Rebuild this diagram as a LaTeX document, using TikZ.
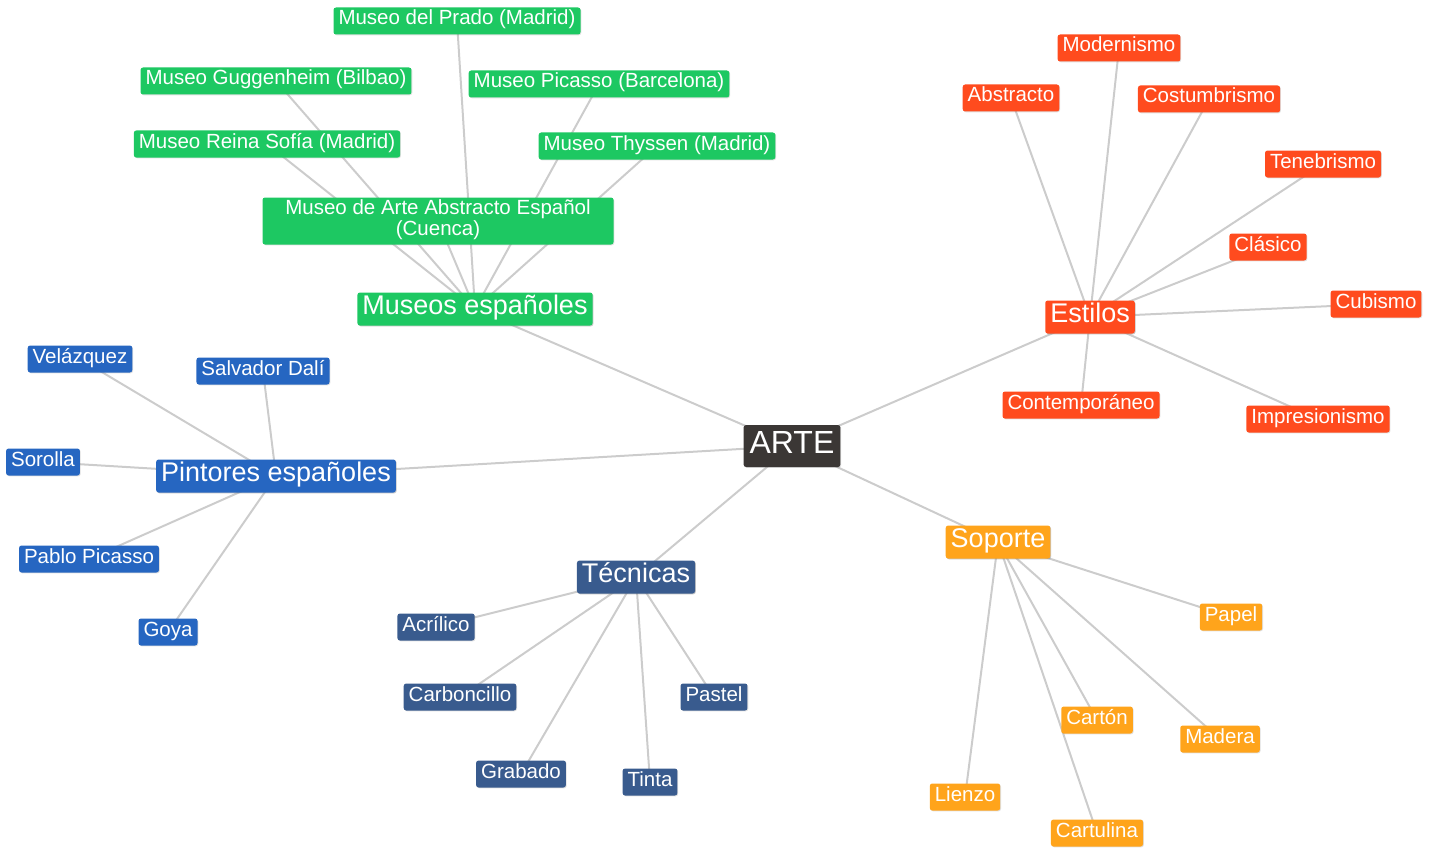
\documentclass[tikz,border=0pt]{standalone}
\usepackage{fontspec}
\setmainfont{Liberation Sans}
\usetikzlibrary{backgrounds,shadows}

\definecolor{artegris}{RGB}{59,55,53}
\definecolor{museoverde}{RGB}{29,200,98}
\definecolor{estilorojo}{RGB}{255,75,30}
\definecolor{pintorazul}{RGB}{38,102,193}
\definecolor{tecnicaazul}{RGB}{57,91,142}
\definecolor{soportenaranja}{RGB}{255,164,27}
\definecolor{lineagris}{RGB}{204,204,204}

\tikzset{
    caja/.style={rounded corners=2.5pt, text=white, inner xsep=5pt,
        drop shadow={shadow xshift=0.8pt, shadow yshift=-0.8pt, opacity=0.25}},
    hoja/.style={caja, font=\fontsize{20.5}{21}\selectfont,
        text height=13.5pt, text depth=5.5pt, inner ysep=4pt},
    rama/.style={caja, font=\fontsize{27}{28}\selectfont,
        text height=18pt, text depth=7pt, inner ysep=4pt},
    raiz/.style={caja, font=\fontsize{32}{34}\selectfont,
        text height=22.5pt, text depth=7.5pt, inner ysep=6pt, inner xsep=6pt},
    enlace/.style={draw=lineagris, line width=2pt}
}

\begin{document}
\begin{tikzpicture}[x=1pt,y=-1pt]
    \useasboundingbox (0,0) rectangle (1434,848);

    \node[raiz, fill=artegris] (arte) at (792,446) {ARTE};

    % museos
    \begin{scope}[every node/.style={hoja, fill=museoverde}]
        \node[rama] (museos) at (475,309) {Museos españoles};
        \node (prado) at (457,21) {Museo del Prado (Madrid)};
        \node (guggen) at (276,81) {Museo Guggenheim (Bilbao)};
        \node (picassobcn) at (599,84) {Museo Picasso (Barcelona)};
        \node (reina) at (267,144) {Museo Reina Sofía (Madrid)};
        \node (thyssen) at (657,146) {Museo Thyssen (Madrid)};
        \node[align=center, minimum width=351pt, text height=34.5pt, inner ysep=3.5pt]
            (cuenca) at (438,221) {Museo de Arte Abstracto Español\\(Cuenca)};
    \end{scope}

    % estilos
    \begin{scope}[every node/.style={hoja, fill=estilorojo}]
        \node[rama] (estilos) at (1090,317) {Estilos};
        \node (modern) at (1119,48) {Modernismo};
        \node (abstr) at (1011,98) {Abstracto};
        \node (costum) at (1209,99) {Costumbrismo};
        \node (tenebr) at (1323,164) {Tenebrismo};
        \node (clasico) at (1268,247) {Clásico};
        \node (cubismo) at (1376,304) {Cubismo};
        \node (contemp) at (1081,405) {Contemporáneo};
        \node (impres) at (1318,419) {Impresionismo};
    \end{scope}

    % pintores
    \begin{scope}[every node/.style={hoja, fill=pintorazul}]
        \node[rama] (pintores) at (276,476) {Pintores españoles};
        \node (velaz) at (80,359) {Velázquez};
        \node (dali) at (263,371) {Salvador Dalí};
        \node (sorolla) at (43,462) {Sorolla};
        \node (picasso) at (89,559) {Pablo Picasso};
        \node (goya) at (168,632) {Goya};
    \end{scope}

    % tecnicas
    \begin{scope}[every node/.style={hoja, fill=tecnicaazul}]
        \node[rama] (tecnicas) at (636,577) {Técnicas};
        \node (acrilico) at (436,627) {Acrílico};
        \node (carbon) at (460,697) {Carboncillo};
        \node (pastel) at (714,697) {Pastel};
        \node (grabado) at (521,774) {Grabado};
        \node (tinta) at (650,782) {Tinta};
    \end{scope}

    % soporte
    \begin{scope}[every node/.style={hoja, fill=soportenaranja}]
        \node[rama] (soporte) at (998,542) {Soporte};
        \node (papel) at (1231,617) {Papel};
        \node (carton) at (1097,720) {Cartón};
        \node (madera) at (1220,739) {Madera};
        \node (lienzo) at (965,797) {Lienzo};
        \node (cartulina) at (1097,833) {Cartulina};
    \end{scope}

    \begin{pgfonlayer}{background}
        \foreach \r in {museos,estilos,pintores,tecnicas,soporte}
            \path[enlace] (arte.center) -- (\r.center);
        \foreach \h in {prado,guggen,picassobcn,reina,thyssen,cuenca}
            \path[enlace] (museos.center) -- (\h.center);
        \foreach \h in {modern,abstr,costum,tenebr,clasico,cubismo,contemp,impres}
            \path[enlace] (estilos.center) -- (\h.center);
        \foreach \h in {velaz,dali,sorolla,picasso,goya}
            \path[enlace] (pintores.center) -- (\h.center);
        \foreach \h in {acrilico,carbon,pastel,grabado,tinta}
            \path[enlace] (tecnicas.center) -- (\h.center);
        \foreach \h in {papel,carton,madera,lienzo,cartulina}
            \path[enlace] (soporte.center) -- (\h.center);
    \end{pgfonlayer}
\end{tikzpicture}
\end{document}
